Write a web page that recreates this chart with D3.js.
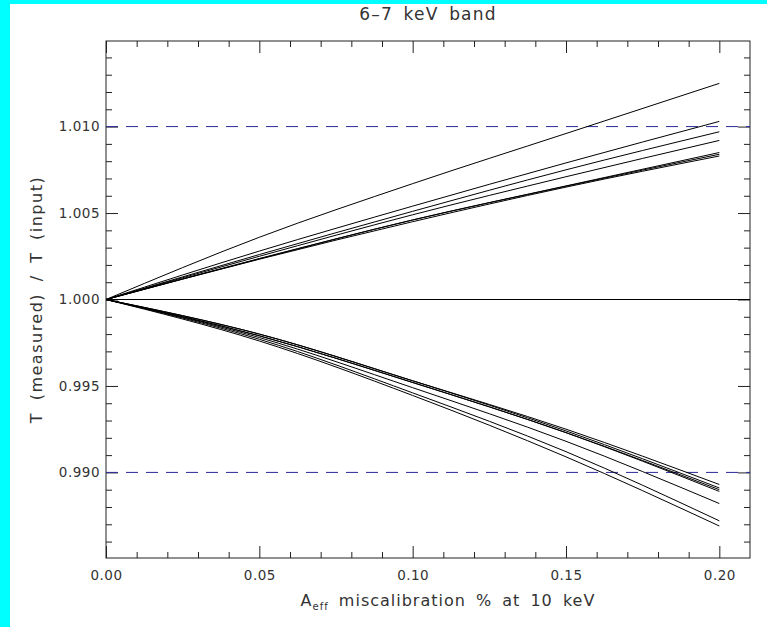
<!DOCTYPE html>
<html>
<head>
<meta charset="utf-8">
<script src="https://cdn.jsdelivr.net/npm/d3@7"></script>
<style>
  body { margin: 0; background: #fff; }
  svg { display: block; }
  .tick text { font-family: "DejaVu Sans", sans-serif; font-size: 13.5px; letter-spacing: 0.5px; fill: #333; }
  .lbl { font-family: "DejaVu Sans", sans-serif; font-size: 16px; fill: #333; }
</style>
</head>
<body>
<div id="chart"></div>
<script>
const xVals = [0, 0.05, 0.10, 0.15, 0.20];

// upper branch (T over-estimated)
const up1 = [1, 1.0036, 1.0067, 1.0096, 1.0125];
const up2 = [1, 1.0028, 1.0054, 1.0079, 1.0103];
const up3 = [1, 1.0026, 1.0051, 1.0075, 1.0097];
const up4 = [1, 1.0025, 1.0049, 1.0071, 1.0092];
const up5 = [1, 1.00237, 1.0046, 1.00657, 1.0085];
const up6 = [1, 1.00235, 1.0046, 1.00655, 1.0084];
const up7 = [1, 1.00233, 1.0045, 1.00650, 1.0083];

// lower branch (T under-estimated)
const dn1 = [1, 0.9980, 0.9953, 0.9925, 0.9893];
const dn2 = [1, 0.9980, 0.9953, 0.9924, 0.9891];
const dn3 = [1, 0.9979, 0.9952, 0.9923, 0.9890];
const dn4 = [1, 0.9979, 0.9952, 0.9923, 0.9889];
const dn5 = [1, 0.9978, 0.9949, 0.9918, 0.9882];
const dn6 = [1, 0.9977, 0.9946, 0.9912, 0.9872];
const dn7 = [1, 0.9976, 0.99445, 0.9909, 0.9869];

const xMajor = [0, 0.05, 0.10, 0.15, 0.20];
const xMinor = [0.01, 0.02, 0.03, 0.04, 0.06, 0.07, 0.08, 0.09, 0.11, 0.12, 0.13, 0.14, 0.16, 0.17, 0.18, 0.19];
const yMajor = [0.990, 0.995, 1.000, 1.005, 1.010];
const yMinor = [0.986, 0.987, 0.988, 0.989, 0.991, 0.992, 0.993, 0.994, 0.996, 0.997, 0.998, 0.999,
                1.001, 1.002, 1.003, 1.004, 1.006, 1.007, 1.008, 1.009, 1.011, 1.012, 1.013, 1.014];
const refLines = [1.010, 0.990];

const W = 767, H = 627;
const margin = { left: 106, right: 17, top: 41, bottom: 69 };

const svg = d3.select('#chart').append('svg')
  .attr('width', W).attr('height', H);

svg.append('rect').attr('width', W).attr('height', H).attr('fill', '#fff');
// cyan border strips
svg.append('rect').attr('x', 0).attr('y', 0).attr('width', 10).attr('height', H).attr('fill', '#00ffff');
svg.append('rect').attr('x', 0).attr('y', 0).attr('width', W).attr('height', 4).attr('fill', '#00ffff');

const x = d3.scaleLinear().domain([0, 0.21]).range([margin.left, W - margin.right]);
const y = d3.scaleLinear().domain([0.98505, 1.01495]).range([H - margin.bottom, margin.top]);

const fmt = d3.format('.2f');
const fmtY = d3.format('.3f');

// axes (ticks point inward, like IDL)
function addAxis(axis, transform) {
  const g = svg.append('g').attr('transform', transform).call(axis);
  g.select('.domain').remove();
  g.selectAll('line').attr('stroke', '#222');
  return g;
}

const bottomY = H - margin.bottom, rightX = W - margin.right;

addAxis(d3.axisBottom(x).tickValues(xMajor).tickSize(-12).tickPadding(12).tickFormat(fmt), `translate(0,${bottomY})`);
addAxis(d3.axisBottom(x).tickValues(xMinor).tickSize(-6).tickFormat(''), `translate(0,${bottomY})`);
addAxis(d3.axisTop(x).tickValues(xMajor).tickSize(-12).tickFormat(''), `translate(0,${margin.top})`);
addAxis(d3.axisTop(x).tickValues(xMinor).tickSize(-6).tickFormat(''), `translate(0,${margin.top})`);
addAxis(d3.axisLeft(y).tickValues(yMajor).tickSize(-12).tickPadding(6).tickFormat(fmtY), `translate(${margin.left},0)`);
addAxis(d3.axisLeft(y).tickValues(yMinor).tickSize(-6).tickFormat(''), `translate(${margin.left},0)`);
addAxis(d3.axisRight(y).tickValues(yMajor).tickSize(-12).tickFormat(''), `translate(${rightX},0)`);
addAxis(d3.axisRight(y).tickValues(yMinor).tickSize(-6).tickFormat(''), `translate(${rightX},0)`);

// frame
svg.append('rect')
  .attr('x', margin.left).attr('y', margin.top)
  .attr('width', rightX - margin.left).attr('height', bottomY - margin.top)
  .attr('fill', 'none').attr('stroke', '#222').attr('stroke-width', 1);

// dashed reference lines at +-1%
svg.selectAll('.ref').data(refLines).enter().append('line')
  .attr('class', 'ref')
  .attr('x1', x(0)).attr('x2', x(0.21))
  .attr('y1', d => y(d)).attr('y2', d => y(d))
  .attr('stroke', '#2a2a9a').attr('stroke-width', 1)
  .attr('stroke-dasharray', '12,8');

// unity line
svg.append('line')
  .attr('x1', x(0)).attr('x2', x(0.21))
  .attr('y1', y(1)).attr('y2', y(1))
  .attr('stroke', '#000').attr('stroke-width', 1);

const series = [up1, up2, up3, up4, up5, up6, up7, dn1, dn2, dn3, dn4, dn5, dn6, dn7];
const line = d3.line()
  .x((d, i) => x(xVals[i]))
  .y(d => y(d))
  .curve(d3.curveMonotoneX);

svg.selectAll('.curve').data(series).enter().append('path')
  .attr('class', 'curve')
  .attr('d', line)
  .attr('fill', 'none').attr('stroke', '#000').attr('stroke-width', 1);

// title and axis labels
const cx = (margin.left + rightX) / 2;
svg.append('text').attr('class', 'lbl')
  .attr('x', cx).attr('y', 20).attr('text-anchor', 'middle')
  .style('font-size', '17px').style('letter-spacing', '1.2px').style('word-spacing', '4px')
  .text('6\u20137 keV band');

const xl = svg.append('text').attr('class', 'lbl')
  .attr('x', cx + 20).attr('y', 606).attr('text-anchor', 'middle')
  .style('letter-spacing', '1px').style('word-spacing', '4px');
xl.append('tspan').text('A');
xl.append('tspan').attr('dy', 4).style('font-size', '10px').text('eff');
xl.append('tspan').attr('dy', -4).text(' miscalibration % at 10 keV');

svg.append('text').attr('class', 'lbl')
  .attr('transform', `translate(42,${(margin.top + bottomY) / 2}) rotate(-90)`)
  .attr('text-anchor', 'middle')
  .style('letter-spacing', '1.5px').style('word-spacing', '5px')
  .text('T (measured) / T (input)');
</script>
</body>
</html>
